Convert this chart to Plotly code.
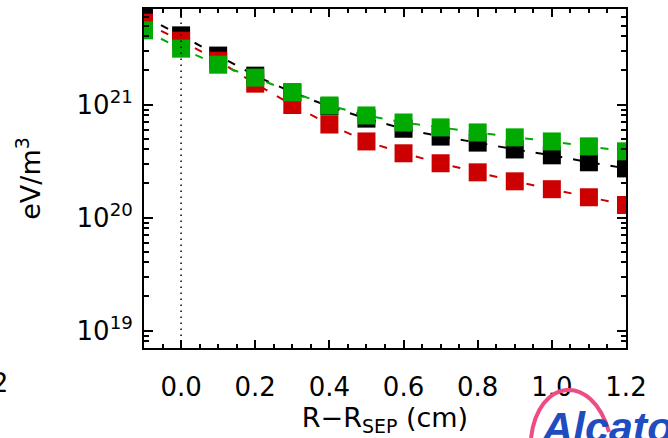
import plotly.graph_objects as go
import math

# ---- data ----
r_minus_rsep_cm = [-0.1, 0.0, 0.1, 0.2, 0.3, 0.4, 0.5, 0.6, 0.7, 0.8, 0.9, 1.0, 1.1, 1.2]
black_series = [6.0e21, 4.09e21, 2.71e21, 1.80e21, 1.28e21, 9.6e20, 7.5e20, 6.1e20,
                5.2e20, 4.6e20, 4.0e20, 3.55e20, 3.08e20, 2.72e20]
red_series = [5.3e21, 3.67e21, 2.44e21, 1.53e21, 9.9e20, 6.65e20, 4.71e20, 3.70e20,
              3.02e20, 2.51e20, 2.09e20, 1.78e20, 1.51e20, 1.29e20]
green_series = [4.53e21, 3.12e21, 2.25e21, 1.73e21, 1.28e21, 9.8e20, 8.0e20, 6.93e20,
                6.27e20, 5.66e20, 5.12e20, 4.71e20, 4.26e20, 3.85e20]
x_tick_vals = [0.0, 0.2, 0.4, 0.6, 0.8, 1.0, 1.2]
x_tick_text = ["0.0", "0.2", "0.4", "0.6", "0.8", "1.0", "1.2"]
y_tick_vals = [1e19, 1e20, 1e21]
y_tick_text = ["10<sup>19</sup>", "10<sup>20</sup>", "10<sup>21</sup>"]

FONT = "DejaVu Sans"
W, H = 668, 438
L, R, T, B = 144, 42, 9, 90

def px2paper(px, py):
    return (px - L) / (W - L - R), (H - B - py) / (H - T - B)

fig = go.Figure()
for vals, col in [(black_series, "#000000"), (red_series, "#cc0000"), (green_series, "#00aa00")]:
    fig.add_trace(go.Scatter(
        x=r_minus_rsep_cm, y=vals, mode="lines+markers",
        line=dict(color=col, width=2, dash="8px,11px"),
        marker=dict(symbol="square", size=18, color=col, line=dict(width=0)),
        cliponaxis=True, showlegend=False, hoverinfo="skip"))

# dotted separatrix line
fig.add_shape(type="line", xref="x", yref="paper", x0=0, x1=0, y0=0, y1=1,
              line=dict(color="black", width=1.5, dash="1.5px,4.5px"), layer="above")

# logo arc
p0 = px2paper(531, 438); p1 = px2paper(538, 378); p2 = px2paper(592, 372); p3 = px2paper(609, 432)
fig.add_shape(type="path", xref="paper", yref="paper",
              path=f"M {p0[0]},{p0[1]} C {p1[0]},{p1[1]} {p2[0]},{p2[1]} {p3[0]},{p3[1]}",
              line=dict(color="#ee4c82", width=4), layer="above")
ax, ay = px2paper(539, 401)
fig.add_annotation(text="<b><i>Alcator</i></b>", xref="paper", yref="paper", x=ax, y=ay,
                   xanchor="left", yanchor="top", showarrow=False,
                   font=dict(family="Liberation Sans", size=43, color="#1f4cc0"))
# fragment of a neighbouring panel's tick label
bx, by = px2paper(10, 383)
fig.add_annotation(text="1.2", xref="paper", yref="paper", x=bx, y=by,
                   xanchor="right", yanchor="middle", showarrow=False,
                   font=dict(family=FONT, size=26, color="black"))

fig.update_layout(
    width=W, height=H, margin=dict(l=L, r=R, t=T, b=B, autoexpand=False),
    paper_bgcolor="white", plot_bgcolor="white",
    font=dict(family=FONT, size=26, color="black"),
    xaxis=dict(range=[-0.1, 1.2], tickvals=x_tick_vals, ticktext=x_tick_text,
               ticks="inside", ticklen=8, tickwidth=1.5, tickcolor="black",
               minor=dict(ticks="inside", ticklen=4, tickwidth=1.5, tickcolor="black", dtick=0.05, tick0=0),
               showline=True, linecolor="black", linewidth=2, mirror="ticks",
               showgrid=False, zeroline=False, ticklabelstandoff=15,
               title=dict(text="R\u2212R<sub>SEP</sub> (cm)", standoff=2, font=dict(size=27)),
               automargin=False),
    yaxis=dict(type="log", range=[math.log10(7e18), math.log10(7e21)],
               tickvals=y_tick_vals, ticktext=y_tick_text,
               ticks="inside", ticklen=9, tickwidth=1.5, tickcolor="black",
               minor=dict(ticks="inside", ticklen=5, tickwidth=1.5, tickcolor="black", dtick="D1"),
               showline=True, linecolor="black", linewidth=2, mirror="ticks",
               showgrid=False, zeroline=False, ticklabelstandoff=4,
               title=dict(text="eV/m<sup>3</sup>", standoff=28, font=dict(size=27)),
               automargin=False),
)
fig.write_html("out.html", config={"displayModeBar": False},
               post_script="document.body.style.margin='0';document.body.style.overflow='hidden';")
